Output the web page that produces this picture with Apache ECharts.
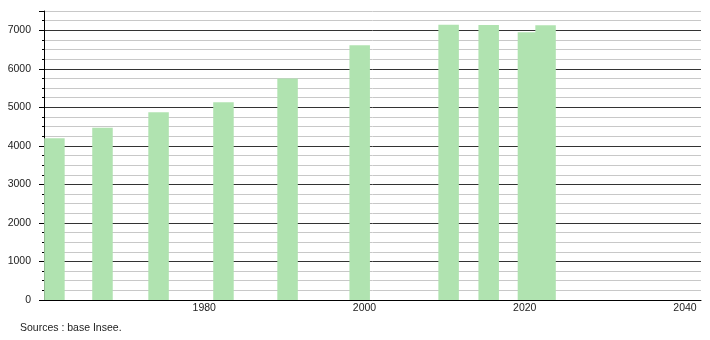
<!DOCTYPE html>
<html>
<head>
<meta charset="utf-8">
<script src="https://cdn.jsdelivr.net/npm/echarts@6/dist/echarts.min.js"></script>
<style>
html,body{margin:0;padding:0;background:#fff;}
#chart{width:710px;height:340px;}
</style>
</head>
<body>
<div id="chart"></div>
<script>
// Census years (bar positions) and population values
const years = [1961.3, 1967.3, 1974.3, 1982.4, 1990.4, 1999.4, 2010.5, 2015.5, 2020.4, 2022.6];
const population = [4200, 4470, 4875, 5135, 5750, 6610, 7140, 7135, 6950, 7130];
const xTickLabels = [1980, 2000, 2020, 2040];
const yTickLabels = [0, 1000, 2000, 3000, 4000, 5000, 6000, 7000];
const sourceText = 'Sources : base Insee.';

const FONT = "'Liberation Sans', Arial, sans-serif";
const chart = echarts.init(document.getElementById('chart'), null, {renderer: 'canvas'});

const option = {
  animation: false,
  backgroundColor: '#ffffff',
  grid: {left: 44, right: 9, top: 11, bottom: 40, containLabel: false},
  xAxis: {
    type: 'value',
    min: 1960,
    max: 2042,
    interval: 20,
    axisLine: {show: true, lineStyle: {color: '#000', width: 1}},
    axisTick: {show: false},
    splitLine: {show: false},
    axisLabel: {
      show: true,
      margin: 3,
      color: '#222',
      fontFamily: FONT,
      fontSize: 10.5,
      showMinLabel: true,
      showMaxLabel: true,
      formatter: function (v) { return xTickLabels.indexOf(v) >= 0 ? String(v) : ''; }
    }
  },
  yAxis: [{
    type: 'value',
    min: 0,
    max: 7500,
    interval: 250,
    position: 'left',
    axisLine: {show: true, lineStyle: {color: '#000', width: 1}},
    axisTick: {show: true, length: 2, lineStyle: {color: '#000'}},
    splitLine: {show: true, lineStyle: {color: ['#333333', '#c8c8c8', '#c8c8c8', '#c8c8c8'], width: 1}},
    axisLabel: {
      show: true,
      margin: 13,
      color: '#222',
      fontFamily: FONT,
      fontSize: 10.5,
      formatter: function (v) { return yTickLabels.indexOf(v) >= 0 ? String(v) : ''; }
    }
  }, {
    type: 'value',
    min: 0,
    max: 7500,
    interval: 1000,
    position: 'left',
    offset: 0,
    axisLine: {show: false},
    axisTick: {show: true, length: 5, lineStyle: {color: '#000'}},
    splitLine: {show: false},
    axisLabel: {show: false}
  }],
  series: [{
    type: 'bar',
    yAxisIndex: 0,
    barWidth: 20.5,
    itemStyle: {color: '#b0e3b0'},
    data: years.map(function (y, i) { return [y, population[i]]; })
  }],
  graphic: [{
    type: 'text',
    left: 20,
    top: 323,
    style: {text: sourceText, fill: '#222', font: '10.5px ' + FONT}
  }]
};
chart.setOption(option);
</script>
</body>
</html>
